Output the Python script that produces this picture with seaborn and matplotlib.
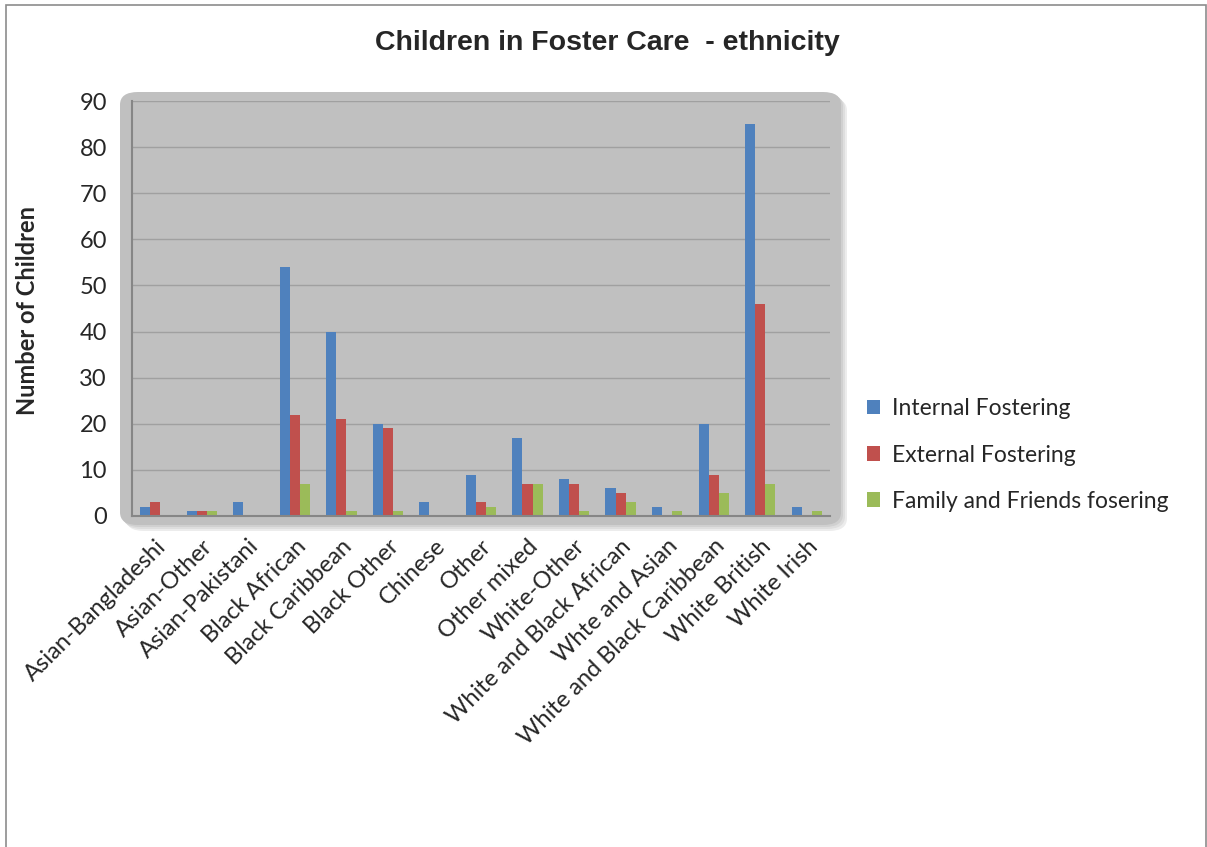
import matplotlib
matplotlib.use("Agg")
import matplotlib.pyplot as plt
from matplotlib.patches import FancyBboxPatch, Rectangle
import pandas as pd
import seaborn as sns

categories = ["Asian-Bangladeshi", "Asian-Other", "Asian-Pakistani", "Black African",
              "Black Caribbean", "Black Other", "Chinese", "Other", "Other mixed",
              "White-Other", "White and Black African", "Whte and Asian",
              "White and Black Caribbean", "White British", "White Irish"]
internal = [2, 1, 3, 54, 40, 20, 3, 9, 17, 8, 6, 2, 20, 85, 2]
external = [3, 1, 0, 22, 21, 19, 0, 3, 7, 7, 5, 0, 9, 46, 0]
friends = [0, 1, 0, 7, 1, 1, 0, 2, 7, 1, 3, 1, 5, 7, 1]
series = ["Internal Fostering", "External Fostering", "Family and Friends fosering"]
colors = ["#4F81BD", "#C0504D", "#9BBB59"]

df = pd.DataFrame({"Ethnicity": categories * 3,
                   "Count": internal + external + friends,
                   "Type": [s for s in series for _ in categories]})

sns.set_style("white")
plt.rcParams["font.family"] = ["Lato", "DejaVu Sans"]

W, H = 1207, 847
fig = plt.figure(figsize=(W / 100, H / 100), dpi=100)
ax = fig.add_axes([132 / W, 1 - 516 / H, (830 - 132) / W, (516 - 101) / H])

# figure frame
fig.patches.append(Rectangle((6 / W, -0.01), 1200 / W, 1 - 5 / H + 0.01,
                             transform=fig.transFigure, fill=False,
                             edgecolor="#8c8c8c", linewidth=1.2, zorder=-5))
# shadow + rounded gray plot area
for off, col in [(6, "#ececec"), (4, "#dedede"), (2, "#d0d0d0")]:
    fig.patches.append(FancyBboxPatch(((120 + off) / W, 1 - (525 + off) / H),
                                      (841 - 120) / W, (525 - 92) / H,
                                      boxstyle="round,pad=0,rounding_size=0.015",
                                      transform=fig.transFigure,
                                      facecolor=col, edgecolor="none", zorder=-4))
fig.patches.append(FancyBboxPatch((120 / W, 1 - 525 / H), (841 - 120) / W, (525 - 92) / H,
                                  boxstyle="round,pad=0,rounding_size=0.015",
                                  transform=fig.transFigure,
                                  facecolor="#C0C0C0", edgecolor="none", zorder=-3))

ax.set_facecolor("none")
sns.barplot(data=df, x="Ethnicity", y="Count", hue="Type", palette=colors,
            width=0.65, saturation=1, ax=ax, legend=True,
            edgecolor="none", linewidth=0)

ax.set_ylim(0, 90)
ax.set_yticks(range(0, 91, 10))
ax.grid(axis="y", color="#a0a0a0", linewidth=1)
ax.set_axisbelow(True)
for side in ["top", "right"]:
    ax.spines[side].set_visible(False)
for side in ["left", "bottom"]:
    ax.spines[side].set_color("#868686")
    ax.spines[side].set_linewidth(1.5)

ax.tick_params(axis="y", labelsize=17, pad=18, length=0)
ax.tick_params(axis="x", labelsize=17, pad=14, length=0)
plt.setp(ax.get_xticklabels(), rotation=45, ha="right", rotation_mode="anchor")
ax.set_xlabel("")
ax.set_ylabel("")

fig.text(28 / W, 1 - 310 / H, "Number of Children", rotation=90, fontsize=17,
         fontweight="bold", ha="center", va="center")
fig.text(607 / W, 1 - 43 / H, "Children in Foster Care  - ethnicity", fontsize=20.5,
         fontweight="bold", ha="center", va="center", family="Liberation Sans")

handles, labels = ax.get_legend_handles_labels()
ax.legend(handles, labels, loc="center left", bbox_to_anchor=(846 / W, 1 - 455 / H),
          bbox_transform=fig.transFigure, frameon=False, fontsize=16.5,
          handlelength=0.6, handleheight=0.6, handletextpad=0.5, labelspacing=1.1)

fig.savefig("out.png", dpi=100)
